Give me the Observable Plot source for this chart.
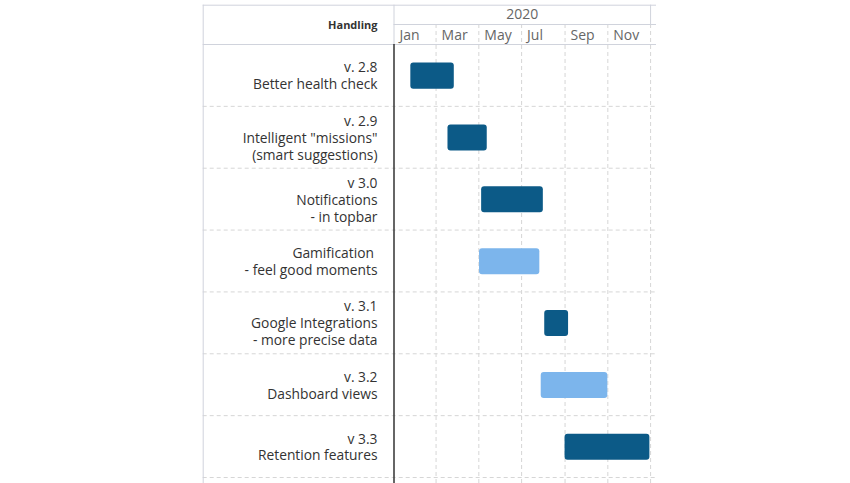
<!DOCTYPE html>
<html>
<head>
<meta charset="utf-8">
<script src="https://cdn.jsdelivr.net/npm/d3@7"></script>
<script src="https://cdn.jsdelivr.net/npm/@observablehq/plot@0.6"></script>
<style>
  body { margin: 0; background: #fff; }
</style>
</head>
<body>
<div id="chart"></div>
<script>
// ---- data ----
const tasks = [
  "v. 2.8\nBetter health check",
  "v. 2.9\nIntelligent \"missions\"\n(smart suggestions)",
  "v 3.0\nNotifications\n- in topbar",
  "Gamification\u00a0\n- feel good moments",
  "v. 3.1\nGoogle Integrations\n- more precise data",
  "v. 3.2\nDashboard views",
  "v 3.3\nRetention features"
];
const starts = ["2020-01-25", "2020-03-18", "2020-05-05", "2020-05-02", "2020-08-03", "2020-07-29", "2020-09-01"];
const ends   = ["2020-03-27", "2020-05-13", "2020-08-01", "2020-07-27", "2020-09-06", "2020-11-01", "2020-12-31"];
const kinds  = ["release", "release", "release", "feature", "release", "feature", "release"];

const monthTicks  = ["2020-01-01", "2020-03-01", "2020-05-01", "2020-07-01", "2020-09-01", "2020-11-01"];
const monthLabels = ["Jan", "Mar", "May", "Jul", "Sep", "Nov"];
const gridDates   = ["2020-03-01", "2020-05-01", "2020-07-01", "2020-09-01", "2020-11-01", "2021-01-01"];
const yearStart = "2020-01-01";
const yearEnd = "2021-01-01";
const yearMid = "2020-07-02";
const yearLabel = "2020";
const headerTitle = "Handling";
const xDomain = ["2020-01-01", "2021-01-08"];

// ---- build ----
const rows = tasks.map((t, i) => ({task: t, start: new Date(starts[i]), end: new Date(ends[i]), kind: kinds[i]}));
const months = monthTicks.map((d, i) => ({date: new Date(d), label: monthLabels[i]}));

const W = 850, H = 483;
const mL = 393.5, mR = 195, mT = 44, mB = 6;
const bw = (H - mT - mB) / tasks.length;
const leftExt = -(mL - 202.7);
const border = "#d0d3dc";
const grid = "#d6d6d6";

const chart = Plot.plot({
  width: W,
  height: H,
  marginLeft: mL,
  marginRight: mR,
  marginTop: mT,
  marginBottom: mB,
  style: {fontFamily: "'Open Sans', sans-serif", background: "#fff", overflow: "visible"},
  x: {type: "utc", domain: xDomain.map(d => new Date(d)), axis: null},
  y: {type: "band", domain: tasks, padding: 0, round: false, axis: null},
  color: {domain: ["release", "feature"], range: ["#0c5a87", "#7cb5ec"]},
  marks: [
    // dashed row separators
    Plot.ruleY(tasks, {dy: bw / 2, insetLeft: leftExt, stroke: grid, strokeDasharray: "4,3"}),
    // dashed vertical grid lines (month row + body)
    Plot.ruleX(gridDates.map(d => new Date(d)), {insetTop: -20, insetBottom: -6, stroke: grid, strokeDasharray: "4,3"}),
    // year boundary in the year row
    Plot.ruleX([new Date(yearEnd)], {insetTop: -(mT - 4.7), insetBottom: H - mT - mB + 20, stroke: border}),
    // header separator (light)
    Plot.ruleX([new Date(yearStart)], {insetTop: -(mT - 4.7), insetBottom: H - mT - mB, stroke: border}),
    // borders
    Plot.frame({anchor: "top", insetTop: -(mT - 4.7), insetLeft: leftExt, stroke: border}),
    Plot.frame({anchor: "top", insetTop: -20, stroke: border}),
    Plot.frame({anchor: "top", insetLeft: leftExt, stroke: border}),
    Plot.frame({anchor: "left", insetLeft: leftExt, insetTop: -(mT - 4.7), insetBottom: -6, stroke: border}),
    // bars
    Plot.barX(rows, {y: "task", x1: "start", x2: "end", fill: "kind", insetTop: 18.6, insetBottom: 17.2, rx: 3}),
    // dark separator between label column and timeline
    Plot.ruleX([new Date(yearStart)], {insetBottom: -6, stroke: "#333", strokeWidth: 1.5}),
    // row labels
    Plot.axisY({anchor: "left", tickSize: 0, tickPadding: 16.5, fontSize: 13.8, fill: "#333", lineHeight: 1.23, label: null}),
    // header texts
    Plot.text([headerTitle], {frameAnchor: "top-left", lineAnchor: "middle", dx: -16.5, dy: -19, textAnchor: "end", fontWeight: "bold", fontSize: 11, fill: "#333"}),
    Plot.text([yearLabel], {x: () => new Date(yearMid), frameAnchor: "top", lineAnchor: "middle", dy: -29.7, fontSize: 14, fill: "#666", text: d => d}),
    Plot.text(months, {x: "date", text: "label", frameAnchor: "top", lineAnchor: "middle", dy: -8.7, dx: 5.5, textAnchor: "start", fontSize: 14, fill: "#666"})
  ]
});
document.getElementById("chart").appendChild(chart);
</script>
</body>
</html>
